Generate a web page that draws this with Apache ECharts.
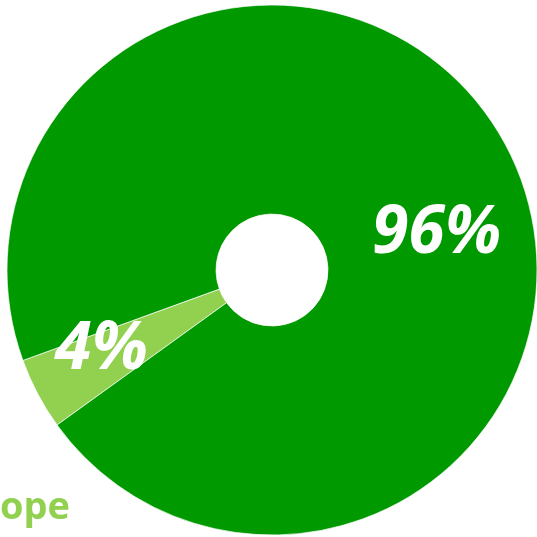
<!DOCTYPE html>
<html>
<head>
<meta charset="utf-8">
<script src="https://cdn.jsdelivr.net/npm/echarts@6/dist/echarts.min.js"></script>
<style>
    html, body { margin: 0; padding: 0; background: #fff; }
    #main { width: 537px; height: 537px; }
</style>
</head>
<body>
<div id="main"></div>
<script>
    // values
    const names = ['Europe', 'Other'];
    const values = [4.4, 95.6];
    const colors = ['#92d050', '#009900'];

    const chart = echarts.init(document.getElementById('main'));

    // nudges for labels (the original sets them by hand)
    const labelShift = [[-26, 4], [20, 41]];

    const option = {
        animation: false,
        color: colors,
        series: [{
            type: 'pie',
            center: [272, 270],
            radius: [56, 265],
            startAngle: 215.8,
            clockwise: true,
            percentPrecision: 0,
            itemStyle: {
                borderColor: 'rgba(255,255,255,0.7)',
                borderWidth: 1
            },
            label: {
                show: true,
                position: 'inside',
                formatter: '{d}%',
                color: '#fff',
                fontFamily: 'Open Sans',
                fontWeight: 'bold',
                fontStyle: 'italic',
                fontSize: 66
            },
            labelLayout: function (p) {
                return { dx: labelShift[p.dataIndex][0], dy: labelShift[p.dataIndex][1] };
            },
            emphasis: { disabled: true },
            data: names.map((n, i) => ({ name: n, value: values[i] }))
        }],
        graphic: [{
            type: 'text',
            right: 537 - 70,
            top: 489,
            style: {
                text: names[0],
                fill: colors[0],
                font: 'bold 38px "Open Sans"'
            }
        }]
    };
    chart.setOption(option);
</script>
</body>
</html>
